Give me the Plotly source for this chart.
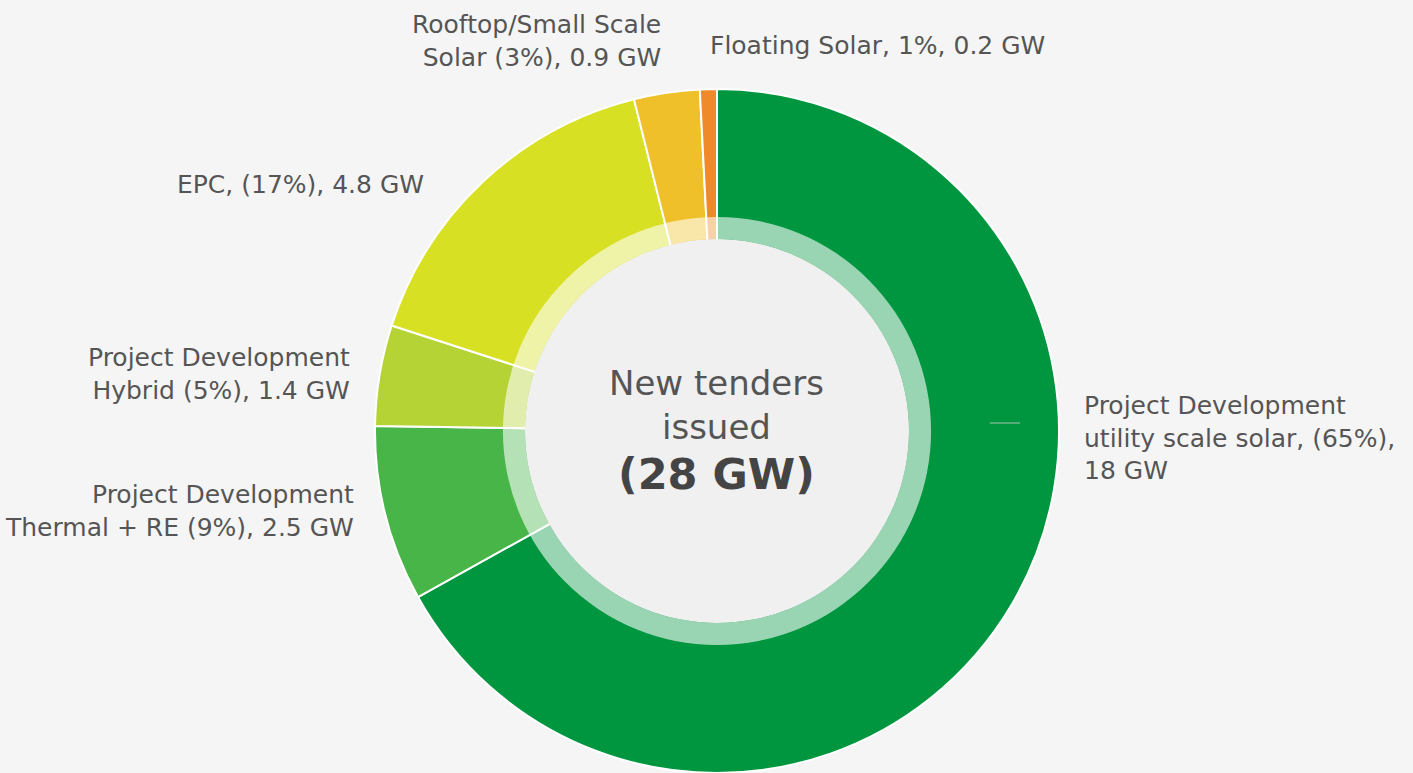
import plotly.graph_objects as go

segments = ["Project Development utility scale solar", "Project Development Thermal + RE",
            "Project Development Hybrid", "EPC", "Rooftop/Small Scale Solar", "Floating Solar"]
shares = [66.9, 8.3, 4.75, 16.1, 3.1, 0.8]
gw = [18, 2.5, 1.4, 4.8, 0.9, 0.2]
colors = ["#00963f", "#48b549", "#b5d334", "#d7e023", "#f0c02a", "#f0892a"]
label_texts = [
    "Project Development<br>utility scale solar, (65%),<br>18 GW",
    "Project Development<br>Thermal + RE (9%), 2.5 GW",
    "Project Development<br>Hybrid (5%), 1.4 GW",
    "EPC, (17%), 4.8 GW",
    "Rooftop/Small Scale<br>Solar (3%), 0.9 GW",
    "Floating Solar, 1%, 0.2 GW",
]
center_lines = ["New tenders", "issued", "(28 GW)"]

W, H = 1413, 773
CX, CY = 717, 431          # pixel centre (from top)
R_OUT, R_RING, R_DISK = 342, 214, 192

def dom(r):
    cyb = H - CY
    return dict(x=[(CX - r) / W, (CX + r) / W], y=[max(0, (cyb - r) / H), min(1, (cyb + r) / H)])

fig = go.Figure()
fig.add_trace(go.Pie(
    labels=segments, values=shares, sort=False, direction="clockwise", rotation=0,
    marker=dict(colors=colors, line=dict(color="white", width=2)),
    textinfo="none", hoverinfo="label+value", domain=dom(R_OUT), showlegend=False,
    customdata=gw,
))
fig.add_trace(go.Pie(
    labels=["ring"], values=[1], hole=R_DISK / R_RING, sort=False,
    marker=dict(colors=["rgba(255,255,255,0.6)"], line=dict(width=0)),
    textinfo="none", hoverinfo="skip", domain=dom(R_RING), showlegend=False,
))
fig.add_trace(go.Pie(
    labels=["disk"], values=[1], sort=False,
    marker=dict(colors=["#f0f0f0"], line=dict(width=0)),
    textinfo="none", hoverinfo="skip", domain=dom(R_DISK), showlegend=False,
))

FONT = "DejaVu Sans"
TC = "#555555"
# label positions (pixel x, pixel y, anchor)
label_pos = [
    (1082, 438, "left"),
    (356, 511, "right"),
    (352, 374, "right"),
    (426, 185, "right"),
    (663, 41, "right"),
    (708, 45, "left"),
]
for txt, (px, py, anc) in zip(label_texts, label_pos):
    fig.add_annotation(x=px / W, y=1 - py / H, xref="paper", yref="paper", text=txt,
                       showarrow=False, xanchor=anc, yanchor="middle", align=anc,
                       font=dict(family=FONT, size=25, color=TC))

center_pos = [(383, 34, False), (427, 34, False), (474, 43, True)]
for txt, (py, sz, bold) in zip(center_lines, center_pos):
    fig.add_annotation(x=CX / W - 0.0003, y=1 - py / H, xref="paper", yref="paper",
                       text=f"<b>{txt}</b>" if bold else txt, showarrow=False,
                       xanchor="center", yanchor="middle",
                       font=dict(family=FONT, size=sz, color="#444444" if bold else TC))

fig.add_shape(type="line", xref="paper", yref="paper",
              x0=990 / W, x1=1020 / W, y0=1 - 423 / H, y1=1 - 423 / H,
              line=dict(color="#a8c8b0", width=1))

fig.update_layout(width=W, height=H, margin=dict(l=0, r=0, t=0, b=0),
                  paper_bgcolor="#f5f5f5", plot_bgcolor="#f5f5f5")
fig.write_html("out.html", config={"displayModeBar": False},
               post_script="document.body.style.margin='0';document.body.style.background='#f5f5f5';")
